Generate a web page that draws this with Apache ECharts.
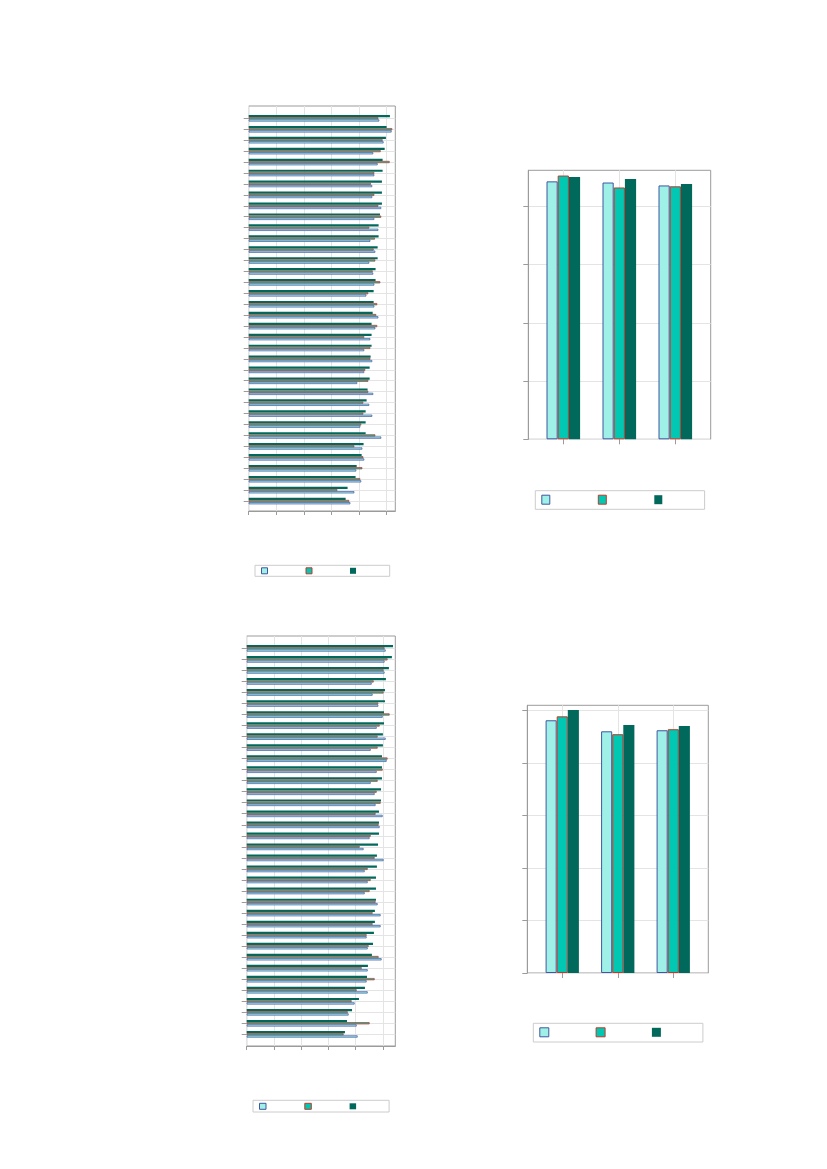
<!DOCTYPE html>
<html>
<head>
<meta charset="utf-8">
<script src="https://cdn.jsdelivr.net/npm/echarts@6/dist/echarts.min.js"></script>
<style>
html,body{margin:0;padding:0;background:#ffffff;}
#chart{width:827px;height:1169px;}
</style>
</head>
<body>
<div id="chart"></div>
<script>
// ---------- DATA ----------
const seriesNames = ['Series 1', 'Series 2', 'Series 3'];

const leftCategories = ['1','2','3','4','5','6','7','8','9','10','11','12','13','14','15','16','17','18',
  '19','20','21','22','23','24','25','26','27','28','29','30','31','32','33','34','35','36'];
const rightCategories = ['1','2','3'];

// top-left horizontal chart (listed top to bottom)
const topLeftLight = [94.7,103.6,97.8,90.3,93.5,91.1,89.6,89.6,96.1,91.1,94.0,88.2,91.8,87.4,90.3,91.1,85.3,91.1,
  94.0,91.8,88.2,83.8,89.6,83.8,78.7,90.3,87.4,89.6,80.9,96.1,82.4,83.8,78.0,81.6,76.6,73.7];
const topLeftMid = [94.0,104.1,97.1,95.7,102.2,91.1,88.6,91.1,94.0,96.1,87.4,91.5,90.6,91.8,89.9,95.4,86.7,93.2,
  92.5,93.2,83.8,88.2,88.2,84.5,86.7,86.7,83.1,83.1,81.6,91.8,76.6,83.1,82.4,80.9,64.3,72.9];
const topLeftDark = [102.4,100.0,99.5,98.6,97.1,97.1,96.6,96.6,96.6,95.2,94.2,94.2,93.5,93.5,92.0,92.0,90.6,90.6,
  89.9,89.1,89.1,89.1,88.4,87.7,87.7,86.2,85.5,84.8,84.8,84.8,83.3,81.9,78.3,77.5,71.7,70.3];

// bottom-left horizontal chart (listed top to bottom)
const bottomLeftLight = [102.1,101.3,101.3,91.8,92.5,96.7,99.9,95.5,102.1,91.1,102.8,95.5,91.1,94.0,94.7,99.9,97.7,90.3,
  85.9,100.6,86.7,88.9,86.7,96.2,98.4,98.4,88.1,88.9,99.1,88.9,88.1,88.9,79.3,74.9,80.8,81.5];
const bottomLeftMid = [101.3,103.5,100.6,93.3,100.6,96.7,105.0,97.7,96.2,96.2,103.5,99.9,96.2,95.5,98.4,94.7,96.9,91.1,
  83.0,94.0,88.9,91.1,90.3,94.7,92.5,92.5,88.1,89.6,96.9,84.5,94.0,80.8,77.1,74.2,90.3,71.2];
const bottomLeftDark = [107.5,106.7,104.5,102.3,101.6,101.6,100.9,100.9,100.1,100.1,99.4,99.4,99.4,98.7,98.7,97.2,97.2,97.2,
  96.5,95.7,95.7,95.0,95.0,95.0,94.2,94.2,93.5,92.8,92.0,89.1,88.4,86.9,82.5,77.4,73.7,72.2];

// top-right vertical chart
const topRightLight = [88.6, 88.2, 87.2];
const topRightMid = [90.6, 86.5, 86.9];
const topRightDark = [90.1, 89.4, 87.7];

// bottom-right vertical chart
const bottomRightLight = [96.2, 92.0, 92.4];
const bottomRightMid = [97.7, 90.9, 92.8];
const bottomRightDark = [100.1, 94.4, 94.0];

// value-axis tick values
const ticksTo100 = [0, 20, 40, 60, 80, 100];
const ticksTo80 = [0, 20, 40, 60, 80];

// ---------- STYLE ----------
const FRAME = '#9b9b9b';
const GRIDC = '#e4e4e4';
const LIGHT = {color: '#9ff1e8', borderColor: '#3f56a0'};
const MID = {color: '#00c8b2', borderColor: '#c0392b'};
const DARK = {color: '#00695c'};

const option = {
  animation: false,
  backgroundColor: '#ffffff',
  grid: [], xAxis: [], yAxis: [], series: [], legend: []
};

function addLegend(lg) {
  option.legend.push({
    left: lg.left, top: lg.top,
    orient: 'horizontal',
    icon: 'rect',
    itemWidth: lg.iw, itemHeight: lg.ih, itemGap: lg.gap,
    padding: lg.padding,
    borderColor: '#cccccc', borderWidth: 1,
    formatter: function () { return ''; },
    textStyle: {fontSize: 6, lineHeight: 6},
    selectedMode: false,
    data: [
      {name: seriesNames[0], itemStyle: {color: LIGHT.color, borderColor: LIGHT.borderColor, borderWidth: 1}},
      {name: seriesNames[1], itemStyle: {color: MID.color, borderColor: MID.borderColor, borderWidth: 1}},
      {name: seriesNames[2], itemStyle: {color: DARK.color, borderWidth: 0}}
    ]
  });
}

function horizontalChart(c) {
  const ga = option.grid.length;
  option.grid.push({left: c.frame.left, top: c.frame.top, width: c.frame.width, height: c.frame.height,
    show: true, borderColor: FRAME, borderWidth: 1, backgroundColor: 'transparent', containLabel: false, outerBoundsMode: 'none'});
  option.xAxis.push({gridIndex: ga, type: 'value', min: 0, max: c.max, interval: 20,
    axisLine: {show: true, lineStyle: {color: FRAME}},
    axisTick: {show: true, length: 4, customValues: c.ticks, lineStyle: {color: FRAME}},
    axisLabel: {show: false},
    splitLine: {show: true, lineStyle: {color: GRIDC}}});
  option.yAxis.push({gridIndex: ga, type: 'value', min: 0, max: 1, show: false});

  const gb = option.grid.length;
  option.grid.push({left: c.frame.left, top: c.band.top, width: c.frame.width, height: c.band.height,
    containLabel: false, outerBoundsMode: 'none'});
  const xb = option.xAxis.length;
  option.xAxis.push({gridIndex: gb, type: 'value', min: 0, max: c.max, show: false});
  const yb = option.yAxis.length;
  option.yAxis.push({gridIndex: gb, type: 'category', data: c.cats, inverse: true,
    axisLine: {show: false},
    axisTick: {show: true, interval: 0, alignWithLabel: true, length: 5, lineStyle: {color: FRAME}},
    axisLabel: {show: false, interval: 0},
    splitLine: {show: true, interval: 0, alignWithLabel: true, lineStyle: {color: GRIDC}}});

  const common = {type: 'bar', xAxisIndex: xb, yAxisIndex: yb, barGap: '0%', barCategoryGap: '40%'};
  option.series.push(Object.assign({name: seriesNames[2], data: c.dark, itemStyle: {color: DARK.color}}, common));
  option.series.push(Object.assign({name: seriesNames[1], data: c.mid,
    itemStyle: {color: MID.color, borderColor: MID.borderColor, borderWidth: 0.7}}, common));
  option.series.push(Object.assign({name: seriesNames[0], data: c.light,
    itemStyle: {color: LIGHT.color, borderColor: LIGHT.borderColor, borderWidth: 0.7}}, common));
  addLegend(c.legend);
}

function verticalChart(c) {
  const ga = option.grid.length;
  option.grid.push({left: c.frame.left, top: c.frame.top, width: c.frame.width, height: c.frame.height,
    show: true, borderColor: FRAME, borderWidth: 1, backgroundColor: 'transparent', containLabel: false, outerBoundsMode: 'none'});
  option.xAxis.push({gridIndex: ga, type: 'value', min: 0, max: 1, show: false});
  option.yAxis.push({gridIndex: ga, type: 'value', min: 0, max: c.max, interval: 20,
    axisLine: {show: true, lineStyle: {color: FRAME}},
    axisTick: {show: true, length: 5, customValues: c.ticks, lineStyle: {color: FRAME}},
    axisLabel: {show: false},
    splitLine: {show: true, lineStyle: {color: GRIDC}}});

  const gb = option.grid.length;
  option.grid.push({left: c.band.left, top: c.frame.top, width: c.band.width, height: c.frame.height,
    containLabel: false, outerBoundsMode: 'none'});
  const xb = option.xAxis.length;
  option.xAxis.push({gridIndex: gb, type: 'category', data: c.cats,
    axisLine: {show: false},
    axisTick: {show: true, interval: 0, alignWithLabel: true, length: 5, lineStyle: {color: FRAME}},
    axisLabel: {show: false, interval: 0},
    splitLine: {show: true, interval: 0, alignWithLabel: true, lineStyle: {color: GRIDC}}});
  const yb = option.yAxis.length;
  option.yAxis.push({gridIndex: gb, type: 'value', min: 0, max: c.max, show: false});

  const common = {type: 'bar', xAxisIndex: xb, yAxisIndex: yb, barGap: '0%', barCategoryGap: '40%'};
  option.series.push(Object.assign({name: seriesNames[0], data: c.light,
    itemStyle: {color: LIGHT.color, borderColor: LIGHT.borderColor, borderWidth: 1}}, common));
  option.series.push(Object.assign({name: seriesNames[1], data: c.mid,
    itemStyle: {color: MID.color, borderColor: MID.borderColor, borderWidth: 1}}, common));
  option.series.push(Object.assign({name: seriesNames[2], data: c.dark, itemStyle: {color: DARK.color}}, common));
  addLegend(c.legend);
}

horizontalChart({
  frame: {left: 248.7, top: 106, width: 146.6, height: 405},
  band: {top: 112.8, height: 393.7},
  max: 106.3, ticks: ticksTo100, cats: leftCategories,
  light: topLeftLight, mid: topLeftMid, dark: topLeftDark,
  legend: {left: 255, top: 565.3, iw: 6, ih: 6, gap: 33, padding: [2, 28.7, 2, 6]}
});

horizontalChart({
  frame: {left: 246.7, top: 636, width: 148.6, height: 410},
  band: {top: 642.8, height: 397},
  max: 109.2, ticks: ticksTo100, cats: leftCategories,
  light: bottomLeftLight, mid: bottomLeftMid, dark: bottomLeftDark,
  legend: {left: 253, top: 1100.3, iw: 6.5, ih: 6, gap: 33.3, padding: [2.5, 28, 2.2, 6]}
});

verticalChart({
  frame: {left: 528.3, top: 170.3, width: 182.4, height: 269},
  band: {left: 535.3, width: 168},
  max: 92.4, ticks: ticksTo80, cats: rightCategories,
  light: topRightLight, mid: topRightMid, dark: topRightDark,
  legend: {left: 535.3, top: 490.7, iw: 8, ih: 9, gap: 43, padding: [4, 37.3, 4.6, 6]}
});

verticalChart({
  frame: {left: 527.3, top: 705.3, width: 181, height: 267.7},
  band: {left: 534.5, width: 166.5},
  max: 101.9, ticks: ticksTo100, cats: rightCategories,
  light: bottomRightLight, mid: bottomRightMid, dark: bottomRightDark,
  legend: {left: 533.3, top: 1023.3, iw: 9, ih: 9, gap: 41.8, padding: [4, 37, 4.7, 6]}
});

const chart = echarts.init(document.getElementById('chart'), null, {renderer: 'canvas'});
chart.setOption(option);
</script>
</body>
</html>
